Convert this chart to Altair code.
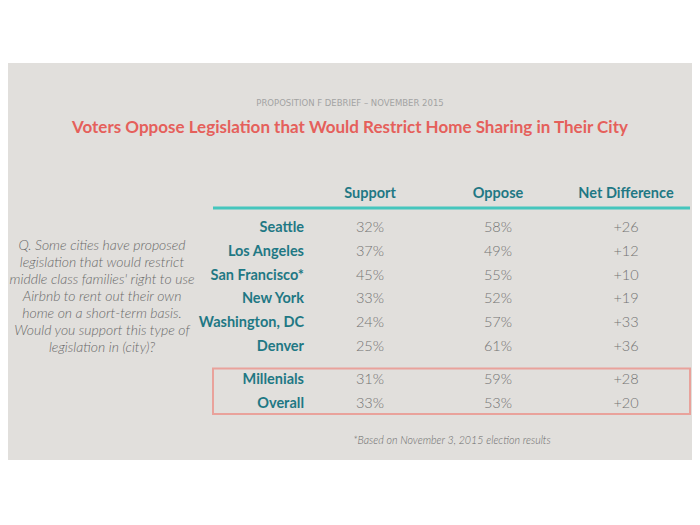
import altair as alt
import pandas as pd

# ---- data ----
subtitle = "PROPOSITION F DEBRIEF – NOVEMBER 2015"
title = "Voters Oppose Legislation that Would Restrict Home Sharing in Their City"
columns = ["Support", "Oppose", "Net Difference"]
cities = ["Seattle", "Los Angeles", "San Francisco*", "New York", "Washington, DC", "Denver"]
city_support = [32, 37, 45, 33, 24, 25]
city_oppose = [58, 49, 55, 52, 57, 61]
city_net = [26, 12, 10, 19, 33, 36]
groups = ["Millenials", "Overall"]
group_support = [31, 33]
group_oppose = [59, 53]
group_net = [28, 20]
question = [
    "Q. Some cities have proposed",
    "legislation that would restrict",
    "middle class families' right to use",
    "Airbnb to rent out their own",
    "home on a short-term basis.",
    "Would you support this type of",
    "legislation in (city)?",
]
footnote = "*Based on November 3, 2015 election results"

FONT = "Lato"
TEAL_TXT = "#1f7884"
GRAY_TXT = "#737373"


def long_table(names, sup, opp, net, key):
    recs = []
    for n, s, o, d in zip(names, sup, opp, net):
        recs.append({key: n, "col": "Support", "txt": f"{s}%"})
        recs.append({key: n, "col": "Oppose", "txt": f"{o}%"})
        recs.append({key: n, "col": "Net Difference", "txt": f"+{d}"})
    return pd.DataFrame(recs)


city_df = long_table(cities, city_support, city_oppose, city_net, "row")
group_df = long_table(groups, group_support, group_oppose, group_net, "grp")

xcol = alt.X("col:N", scale=alt.Scale(type="point", domain=columns, range=[362, 618], padding=0), axis=None)
ycity = alt.Y("row:N", scale=alt.Scale(type="point", domain=cities, range=[220, 339], padding=0), axis=None)
ygrp = alt.Y("grp:N", scale=alt.Scale(type="point", domain=groups, range=[372, 396], padding=0), axis=None)

one = pd.DataFrame({"k": [0]})

band = alt.Chart(one).mark_rect(color="#e1dfdc").encode(
    x=alt.value(-8), x2=alt.value(692), y=alt.value(55), y2=alt.value(452)
)

sub = alt.Chart(pd.DataFrame({"t": [subtitle]})).mark_text(
    font="DejaVu Sans", fontSize=8.5, color="#a3a3a3", align="center", baseline="middle"
).encode(text="t:N", x=alt.value(342), y=alt.value(95))

ttl = alt.Chart(pd.DataFrame({"t": [title]})).mark_text(
    font=FONT, fontSize=17, fontWeight="bold", color="#e5605b", align="center", baseline="middle"
).encode(text="t:N", x=alt.value(342), y=alt.value(120))

heads = alt.Chart(pd.DataFrame({"col": columns})).mark_text(
    font=FONT, fontSize=14.5, fontWeight="bold", color=TEAL_TXT, align="center", baseline="middle"
).encode(x=xcol, y=alt.value(186), text="col:N")

rule = alt.Chart(one).mark_rule(color="#45c6bd", strokeWidth=3).encode(
    x=alt.value(205), x2=alt.value(682), y=alt.value(200)
)

city_labels = alt.Chart(pd.DataFrame({"row": cities})).mark_text(
    font=FONT, fontSize=14.5, fontWeight="bold", color=TEAL_TXT, align="right", baseline="middle"
).encode(x=alt.value(296), y=ycity, text="row:N")

city_vals = alt.Chart(city_df).mark_text(
    font=FONT, fontSize=14.5, fontWeight=300, color=GRAY_TXT, align="center", baseline="middle"
).encode(x=xcol, y=ycity, text="txt:N")

box = alt.Chart(one).mark_rect(fill=None, stroke="#e9a29b", strokeWidth=2).encode(
    x=alt.value(205), x2=alt.value(682), y=alt.value(360.5), y2=alt.value(406)
)

grp_labels = alt.Chart(pd.DataFrame({"grp": groups})).mark_text(
    font=FONT, fontSize=14.5, fontWeight="bold", color=TEAL_TXT, align="right", baseline="middle"
).encode(x=alt.value(296), y=ygrp, text="grp:N")

grp_vals = alt.Chart(group_df).mark_text(
    font=FONT, fontSize=14.5, fontWeight=300, color=GRAY_TXT, align="center", baseline="middle"
).encode(x=xcol, y=ygrp, text="txt:N")

q = alt.Chart(pd.DataFrame({"t": ["\n".join(question)]})).mark_text(
    font=FONT, fontSize=14, fontStyle="italic", fontWeight=300, color="#6a6a6a",
    align="center", baseline="top", lineBreak="\n", lineHeight=17
).encode(x=alt.value(94), y=alt.value(231), text="t:N")

foot = alt.Chart(pd.DataFrame({"t": [footnote]})).mark_text(
    font=FONT, fontSize=10.7, fontStyle="italic", fontWeight=300, color="#6a6a6a",
    align="center", baseline="middle"
).encode(x=alt.value(444), y=alt.value(433), text="t:N")

chart = alt.layer(
    band, sub, ttl, heads, rule, city_labels, city_vals, box, grp_labels, grp_vals, q, foot
).resolve_scale(x="independent", y="independent").properties(
    width=684, height=509, autosize=alt.AutoSizeParams(type="none"), padding=0, background="white"
).configure_view(stroke=None)

chart.save("out.html", embed_options={"renderer": "svg", "actions": False})
